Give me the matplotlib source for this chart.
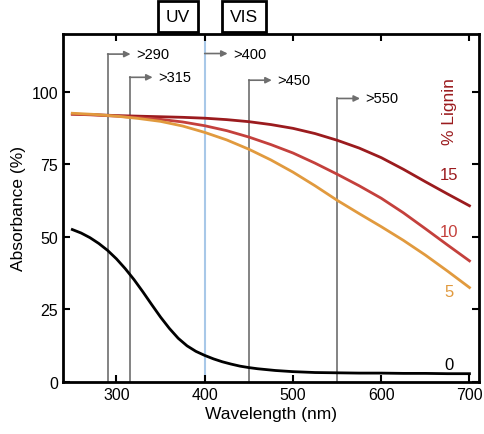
import numpy as np
import matplotlib.pyplot as plt
from matplotlib.patches import Rectangle

plt.rcParams['font.family'] = ['Liberation Sans', 'DejaVu Sans']

# Wavelength grid (nm) and absorbance (%)
wavelength = [250, 275, 300, 325, 350, 375, 400, 425, 450, 475,
              500, 525, 550, 575, 600, 625, 650, 675, 700]
lignin_15 = [92.3, 92.1, 91.8, 91.6, 91.4, 91.2, 90.9, 90.4, 89.7, 88.7,
             87.4, 85.6, 83.3, 80.6, 77.3, 73.3, 69.0, 64.8, 60.7]
lignin_10 = [92.3, 92.0, 91.6, 91.1, 90.5, 89.6, 88.3, 86.6, 84.4, 81.8,
             78.9, 75.4, 71.6, 67.6, 63.3, 58.3, 52.8, 47.2, 41.7]
lignin_5 = [92.6, 92.2, 91.6, 90.8, 89.8, 88.2, 86.0, 83.4, 80.2, 76.5,
            72.3, 67.6, 62.6, 58.0, 53.5, 48.8, 43.7, 38.2, 32.5]

# 0 % lignin sampled more finely around the steep part
wavelength_0 = [250, 260, 270, 280, 290, 300, 310, 320, 330, 340, 350, 360,
                370, 380, 390, 400, 410, 420, 430, 440, 450, 460, 470, 480,
                490, 500, 525, 550, 575, 600, 625, 650, 675, 700]
lignin_0 = [52.5, 51.3, 49.7, 47.7, 45.3, 42.4, 39.0, 35.2, 31.0, 26.6, 22.3,
            18.4, 15.0, 12.4, 10.5, 9.1, 7.9, 6.9, 6.1, 5.4, 4.9, 4.5, 4.2,
            3.9, 3.7, 3.5, 3.2, 3.1, 3.0, 3.0, 2.9, 2.9, 2.8, 2.8]

series = [(wavelength, lignin_15, '15', '#9b1b1e'),
          (wavelength, lignin_10, '10', '#c4403c'),
          (wavelength, lignin_5, '5', '#e19a3e'),
          (wavelength_0, lignin_0, '0', 'black')]

# cut-off filters
cutoffs = [290, 315, 400, 450, 550]
cutoff_labels = ['>290', '>315', '>400', '>450', '>550']
arrow_y = [113, 105, 113.2, 104, 97.7]

fig = plt.figure(figsize=(4.85, 4.35), dpi=100)
ax = fig.add_axes([0.130, 0.120, 0.858, 0.800])

# UV / VIS boundary
ax.axvline(400, color='#a8c8e8', lw=1.5, zorder=1)

grey = '#6e6e6e'
for c, lab, h in zip(cutoffs, cutoff_labels, arrow_y):
    if c != 400:
        ax.plot([c, c], [0, h], color=grey, lw=1.2, zorder=1)
    ax.annotate('', xy=(c + 26, h), xytext=(c, h),
                arrowprops=dict(arrowstyle='-|>', color=grey, lw=1.2,
                                mutation_scale=9, shrinkA=0, shrinkB=0))
    ax.text(c + 32, h, lab, fontsize=10.5, va='center', ha='left')

for x, vals, lab, col in series:
    ax.plot(x, vals, color=col, lw=2, zorder=3)

label_pos = {'15': 71.6, '10': 51.8, '5': 31.1, '0': 5.9}
for x, vals, lab, col in series:
    ax.text(677, label_pos[lab], lab, color=col, fontsize=12, ha='center', va='center')
ax.text(677, 93.5, '% Lignin', color='#9b1b1e', fontsize=12.5, rotation=90,
        ha='center', va='center')

ax.set_xlim(239.5, 711)
ax.set_ylim(0, 120)
ax.set_xticks([300, 400, 500, 600, 700])
ax.set_yticks([0, 25, 50, 75, 100])
ax.tick_params(direction='in', top=True, right=True, length=5, width=1.5,
               labelsize=11.5)
for s in ax.spines.values():
    s.set_linewidth(2)
ax.set_xlabel('Wavelength (nm)', fontsize=12.5, labelpad=3)
ax.set_ylabel('Absorbance (%)', fontsize=12.5, labelpad=4)

# UV / VIS boxes above the axes
for x0, w, txt in [(158, 40, 'UV'), (222, 44, 'VIS')]:
    fig.patches.append(Rectangle((x0 / 485, 1 - 33 / 435), w / 485, 31 / 435,
                                 transform=fig.transFigure, fill=False,
                                 ec='black', lw=2))
    fig.text((x0 + w / 2) / 485, 1 - 17 / 435, txt, fontsize=12.5,
             ha='center', va='center')

fig.savefig('out.png', dpi=100)
